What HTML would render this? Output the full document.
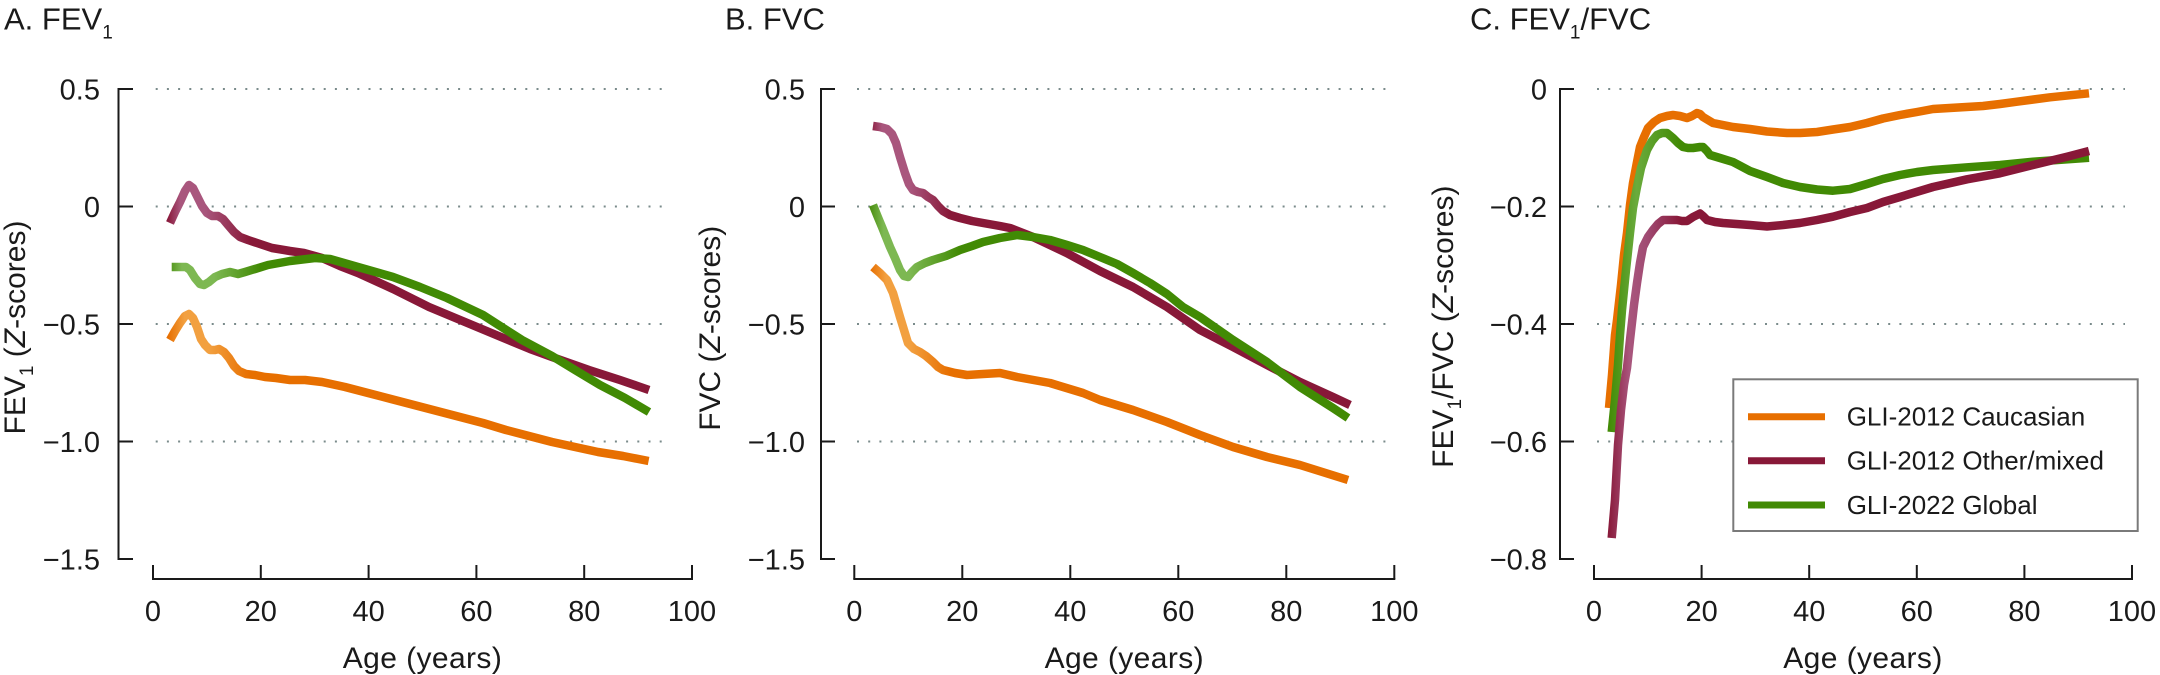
<!DOCTYPE html>
<html>
<head>
<meta charset="utf-8">
<style>
  html,body{margin:0;padding:0;background:#fff;}
  svg{display:block;}
  text{font-family:"Liberation Sans",Arial,sans-serif;fill:#1a1a1a;}
</style>
</head>
<body>
<svg width="2160" height="675" viewBox="0 0 2160 675" xmlns="http://www.w3.org/2000/svg">
  <defs>
    <linearGradient id="pA" gradientUnits="userSpaceOnUse" x1="168" y1="0" x2="250" y2="0">
      <stop offset="0" stop-color="#8a1a3c"/><stop offset="0.15" stop-color="#a9567d"/><stop offset="0.45" stop-color="#a9567d"/><stop offset="1" stop-color="#881838"/>
    </linearGradient>
    <linearGradient id="gA" gradientUnits="userSpaceOnUse" x1="168" y1="0" x2="260" y2="0">
      <stop offset="0" stop-color="#4a8f10"/><stop offset="0.15" stop-color="#7db852"/><stop offset="0.5" stop-color="#7db852"/><stop offset="1" stop-color="#418a04"/>
    </linearGradient>
    <linearGradient id="oA" gradientUnits="userSpaceOnUse" x1="168" y1="0" x2="250" y2="0">
      <stop offset="0" stop-color="#e76f00"/><stop offset="0.2" stop-color="#f2a040"/><stop offset="0.5" stop-color="#f2a040"/><stop offset="1" stop-color="#e76f00"/>
    </linearGradient>
    <linearGradient id="pB" gradientUnits="userSpaceOnUse" x1="870" y1="0" x2="950" y2="0">
      <stop offset="0" stop-color="#8a1a3c"/><stop offset="0.15" stop-color="#a9567d"/><stop offset="0.5" stop-color="#a9567d"/><stop offset="1" stop-color="#881838"/>
    </linearGradient>
    <linearGradient id="gB" gradientUnits="userSpaceOnUse" x1="870" y1="0" x2="960" y2="0">
      <stop offset="0" stop-color="#4a8f10"/><stop offset="0.15" stop-color="#7db852"/><stop offset="0.45" stop-color="#7db852"/><stop offset="1" stop-color="#418a04"/>
    </linearGradient>
    <linearGradient id="oB" gradientUnits="userSpaceOnUse" x1="870" y1="0" x2="950" y2="0">
      <stop offset="0" stop-color="#e76f00"/><stop offset="0.2" stop-color="#f2a040"/><stop offset="0.5" stop-color="#f2a040"/><stop offset="1" stop-color="#e76f00"/>
    </linearGradient>
    <linearGradient id="pC" gradientUnits="userSpaceOnUse" x1="1608" y1="0" x2="1680" y2="0">
      <stop offset="0" stop-color="#881838"/><stop offset="0.3" stop-color="#a9567d"/><stop offset="0.55" stop-color="#a04a72"/><stop offset="1" stop-color="#881838"/>
    </linearGradient>
    <linearGradient id="gC" gradientUnits="userSpaceOnUse" x1="1608" y1="0" x2="1680" y2="0">
      <stop offset="0" stop-color="#418a04"/><stop offset="0.4" stop-color="#6aab3c"/><stop offset="1" stop-color="#418a04"/>
    </linearGradient>
  </defs>

  <!-- ================= PANEL A ================= -->
  <text x="4" y="29.3" font-size="31">A. FEV<tspan font-size="19" dy="9">1</tspan></text>
  <g stroke="#7a8b8b" stroke-width="2" stroke-dasharray="2 9.2">
    <line x1="155.7" y1="89" x2="662" y2="89"/>
    <line x1="155.7" y1="206.5" x2="662" y2="206.5"/>
    <line x1="155.7" y1="324" x2="662" y2="324"/>
    <line x1="155.7" y1="441.5" x2="662" y2="441.5"/>
  </g>
  <g stroke="#1a1a1a" stroke-width="2" fill="none">
    <line x1="118.5" y1="88" x2="118.5" y2="560"/>
    <line x1="118.5" y1="89" x2="133" y2="89"/>
    <line x1="118.5" y1="206.5" x2="133" y2="206.5"/>
    <line x1="118.5" y1="324" x2="133" y2="324"/>
    <line x1="118.5" y1="441.5" x2="133" y2="441.5"/>
    <line x1="118.5" y1="559" x2="133" y2="559"/>
    <line x1="152" y1="579" x2="693" y2="579"/>
    <line x1="153" y1="565" x2="153" y2="579"/>
    <line x1="260.8" y1="565" x2="260.8" y2="579"/>
    <line x1="368.6" y1="565" x2="368.6" y2="579"/>
    <line x1="476.4" y1="565" x2="476.4" y2="579"/>
    <line x1="584.2" y1="565" x2="584.2" y2="579"/>
    <line x1="692" y1="565" x2="692" y2="579"/>
  </g>
  <g font-size="29" text-anchor="end">
    <text x="100" y="99.5">0.5</text>
    <text x="100" y="217">0</text>
    <text x="100" y="334.5">−0.5</text>
    <text x="100" y="452">−1.0</text>
    <text x="100" y="569.5">−1.5</text>
  </g>
  <g font-size="29" text-anchor="middle">
    <text x="153" y="621">0</text>
    <text x="260.8" y="621">20</text>
    <text x="368.6" y="621">40</text>
    <text x="476.4" y="621">60</text>
    <text x="584.2" y="621">80</text>
    <text x="692" y="621">100</text>
  </g>
  <text x="422.5" y="668" font-size="30" text-anchor="middle" letter-spacing="0.4">Age (years)</text>
  <text transform="translate(25,327.5) rotate(-90)" font-size="30" text-anchor="middle">FEV<tspan font-size="19" dy="8">1</tspan><tspan dy="-8"> (</tspan><tspan font-style="italic">Z</tspan>-scores)</text>
  <g fill="none" stroke-width="8.5" stroke-linejoin="round">
    <polyline stroke="url(#oA)" points="170,340 175,331 180,323 185,316 189,314 193,318 197,327 201,339 205,345 210,350 215,350 219,349 224,352 229,358 234,366 239,371 246,374 255,375 265,377 276,378 290,380 305,380 322,382 345,387 368,393 391,399 414,405 437,411 460,417 483,423 506,430 529,436 552,442 575,447 598,452 623,456 648.6,461"/>
    <polyline stroke="url(#pA)" points="170,223 175,212 180,202 185,191 189,185 193,188 197,196 202,206 207,213 212,216 218,216 223,219 228,225 234,232 240,237 248,240 257,243 272,248 290,251 304,253 322,258 340,266 358,273 393,289 429,307 465,322 501,337 530,349 552,357 589,370 620,380 649,390"/>
    <polyline stroke="url(#gA)" points="171.7,267 186,267 190,270 195,278 200,284 204,285 209,282 215,277 222,274 230,272 238,274 245,272 255,269 268,265 290,261 315,258 330,259 358,267 393,277 420,287 447,298 483,315 522,340 552,356 575,370 600,385 625,398 649,412"/>
  </g>

  <!-- ================= PANEL B ================= -->
  <text x="725" y="29.3" font-size="31">B. FVC</text>
  <g stroke="#7a8b8b" stroke-width="2" stroke-dasharray="2 9.2">
    <line x1="857" y1="89" x2="1387" y2="89"/>
    <line x1="857" y1="206.5" x2="1387" y2="206.5"/>
    <line x1="857" y1="324" x2="1387" y2="324"/>
    <line x1="857" y1="441.5" x2="1387" y2="441.5"/>
  </g>
  <g stroke="#1a1a1a" stroke-width="2" fill="none">
    <line x1="821" y1="88" x2="821" y2="560"/>
    <line x1="821" y1="89" x2="835" y2="89"/>
    <line x1="821" y1="206.5" x2="835" y2="206.5"/>
    <line x1="821" y1="324" x2="835" y2="324"/>
    <line x1="821" y1="441.5" x2="835" y2="441.5"/>
    <line x1="821" y1="559" x2="835" y2="559"/>
    <line x1="853.3" y1="579" x2="1395.3" y2="579"/>
    <line x1="854.3" y1="565" x2="854.3" y2="579"/>
    <line x1="962.3" y1="565" x2="962.3" y2="579"/>
    <line x1="1070.3" y1="565" x2="1070.3" y2="579"/>
    <line x1="1178.3" y1="565" x2="1178.3" y2="579"/>
    <line x1="1286.3" y1="565" x2="1286.3" y2="579"/>
    <line x1="1394.3" y1="565" x2="1394.3" y2="579"/>
  </g>
  <g font-size="29" text-anchor="end">
    <text x="805" y="99.5">0.5</text>
    <text x="805" y="217">0</text>
    <text x="805" y="334.5">−0.5</text>
    <text x="805" y="452">−1.0</text>
    <text x="805" y="569.5">−1.5</text>
  </g>
  <g font-size="29" text-anchor="middle">
    <text x="854.3" y="621">0</text>
    <text x="962.3" y="621">20</text>
    <text x="1070.3" y="621">40</text>
    <text x="1178.3" y="621">60</text>
    <text x="1286.3" y="621">80</text>
    <text x="1394.3" y="621">100</text>
  </g>
  <text x="1124.3" y="668" font-size="30" text-anchor="middle" letter-spacing="0.4">Age (years)</text>
  <text transform="translate(720,328.3) rotate(-90)" font-size="30" text-anchor="middle">FVC (<tspan font-style="italic">Z</tspan>-scores)</text>
  <g fill="none" stroke-width="8.5" stroke-linejoin="round">
    <polyline stroke="url(#oB)" points="873,267 880,273 887,280 893,293 900,317 904,330 908,343 914,349 920,352 926,356 933,362 938,367 943,370 955,373 967,375 983,374 1000,373 1017,377 1050,383 1083,393 1100,400 1133,410 1167,422 1200,435 1233,447 1267,457 1300,465 1348,480"/>
    <polyline stroke="url(#pB)" points="873,126 880,127 887,129 892,134 896,143 900,157 905,173 909,184 913,190 918,192 923,193 928,197 933,200 938,206 943,211 950,215 960,218 972,221 983,223 1000,226 1010,228 1033,237 1066.7,253 1100,271 1133,287 1167,307 1200,330 1233,347 1267,365 1300,382 1333,397 1350,405"/>
    <polyline stroke="url(#gB)" points="873,205 877,215 882,227 886,237 890,247 895,258 900,270 904,276 908,277 912,272 917,267 925,263 933,260 946,256 960,250 972,246 983,242 1000,238 1017,235 1033,237 1050,240 1067,245 1083,250 1100,257 1117,264 1133,273 1150,283 1167,294 1183,307 1200,317 1233,340 1267,362 1300,387 1333,408 1348,418"/>
  </g>

  <!-- ================= PANEL C ================= -->
  <text x="1470" y="29.3" font-size="31">C. FEV<tspan font-size="19" dy="9">1</tspan><tspan dy="-9">/FVC</tspan></text>
  <g stroke="#7a8b8b" stroke-width="2" stroke-dasharray="2 9.2">
    <line x1="1597" y1="89" x2="2125" y2="89"/>
    <line x1="1597" y1="206.5" x2="2125" y2="206.5"/>
    <line x1="1597" y1="324" x2="2125" y2="324"/>
    <line x1="1597" y1="441.5" x2="2125" y2="441.5"/>
  </g>
  <g stroke="#1a1a1a" stroke-width="2" fill="none">
    <line x1="1560" y1="88" x2="1560" y2="560"/>
    <line x1="1560" y1="89" x2="1574" y2="89"/>
    <line x1="1560" y1="206.5" x2="1574" y2="206.5"/>
    <line x1="1560" y1="324" x2="1574" y2="324"/>
    <line x1="1560" y1="441.5" x2="1574" y2="441.5"/>
    <line x1="1560" y1="559" x2="1574" y2="559"/>
    <line x1="1593" y1="579" x2="2133" y2="579"/>
    <line x1="1594" y1="565" x2="1594" y2="579"/>
    <line x1="1701.6" y1="565" x2="1701.6" y2="579"/>
    <line x1="1809.2" y1="565" x2="1809.2" y2="579"/>
    <line x1="1916.8" y1="565" x2="1916.8" y2="579"/>
    <line x1="2024.4" y1="565" x2="2024.4" y2="579"/>
    <line x1="2132" y1="565" x2="2132" y2="579"/>
  </g>
  <g font-size="29" text-anchor="end">
    <text x="1547" y="99.5">0</text>
    <text x="1547" y="217">−0.2</text>
    <text x="1547" y="334.5">−0.4</text>
    <text x="1547" y="452">−0.6</text>
    <text x="1547" y="569.5">−0.8</text>
  </g>
  <g font-size="29" text-anchor="middle">
    <text x="1594" y="621">0</text>
    <text x="1701.6" y="621">20</text>
    <text x="1809.2" y="621">40</text>
    <text x="1916.8" y="621">60</text>
    <text x="2024.4" y="621">80</text>
    <text x="2132" y="621">100</text>
  </g>
  <text x="1863" y="668" font-size="30" text-anchor="middle" letter-spacing="0.4">Age (years)</text>
  <text transform="translate(1453,326.7) rotate(-90)" font-size="30" text-anchor="middle">FEV<tspan font-size="19" dy="8">1</tspan><tspan dy="-8">/FVC (</tspan><tspan font-style="italic">Z</tspan>-scores)</text>
  <g fill="none" stroke-width="8.5" stroke-linejoin="round">
    <polyline stroke="#e76f00" points="1609,408 1612,375 1615,335 1617,320 1621,285 1624,255 1627,233 1630,205 1633,183 1637,162 1640,147 1644,137 1648,128 1654,122 1660,118 1667,116 1673,115 1680,116 1687,118 1692,116 1697,113 1700,114 1703,117 1708,120 1713,123 1723,125 1733,127 1750,129 1767,131.5 1787,133 1800,133 1817,132 1833,129.5 1850,127 1867,123 1883,118.5 1900,115 1917,112 1933,109 1958,107.5 1983,106 2000,104 2017,101.7 2050,97.3 2089,93.3"/>
    <polyline stroke="url(#gC)" points="1611.7,432 1615,400 1618,365 1620,335 1622,310 1626,270 1630,233 1633,208 1637,187 1641,168 1647,150 1652,141 1657,135 1662,133 1667,133 1673,138 1678,143 1683,147 1688,148 1693,148 1700,147 1703,147 1707,151 1710,155 1720,158 1733,162 1750,171 1767,177 1783,183 1800,187 1817,189.5 1833,190.7 1850,189 1867,184 1883,179 1900,175 1917,172 1933,170 1967,167.3 2000,165 2033,161.7 2089,157.7"/>
    <polyline stroke="url(#pC)" points="1611.7,538 1615,500 1618,445 1621,410 1624,385 1627,368 1630,340 1634,305 1637,283 1640,263 1643,247 1648,237 1653,230 1658,224 1663,220 1670,220 1677,220 1682,221 1687,221 1693,217 1700,213.5 1703,216 1707,220 1715,222 1723,223 1750,225 1767,226.5 1783,225 1800,223 1817,220 1833,216.7 1850,212 1867,208 1883,202 1900,197 1933,187 1967,179.3 2000,173.3 2033,165 2067,156.7 2089,151"/>
  </g>

  <!-- legend -->
  <rect x="1733.3" y="379.3" width="404.4" height="151.7" fill="#ffffff" stroke="#7a7a7a" stroke-width="2"/>
  <g stroke-width="7">
    <line x1="1748" y1="416.7" x2="1825" y2="416.7" stroke="#e76f00"/>
    <line x1="1748" y1="460.7" x2="1825" y2="460.7" stroke="#881838"/>
    <line x1="1748" y1="505" x2="1825" y2="505" stroke="#418a04"/>
  </g>
  <g font-size="26">
    <text x="1846.7" y="425.7">GLI-2012 Caucasian</text>
    <text x="1846.7" y="469.7">GLI-2012 Other/mixed</text>
    <text x="1846.7" y="514">GLI-2022 Global</text>
  </g>
</svg>
</body>
</html>
